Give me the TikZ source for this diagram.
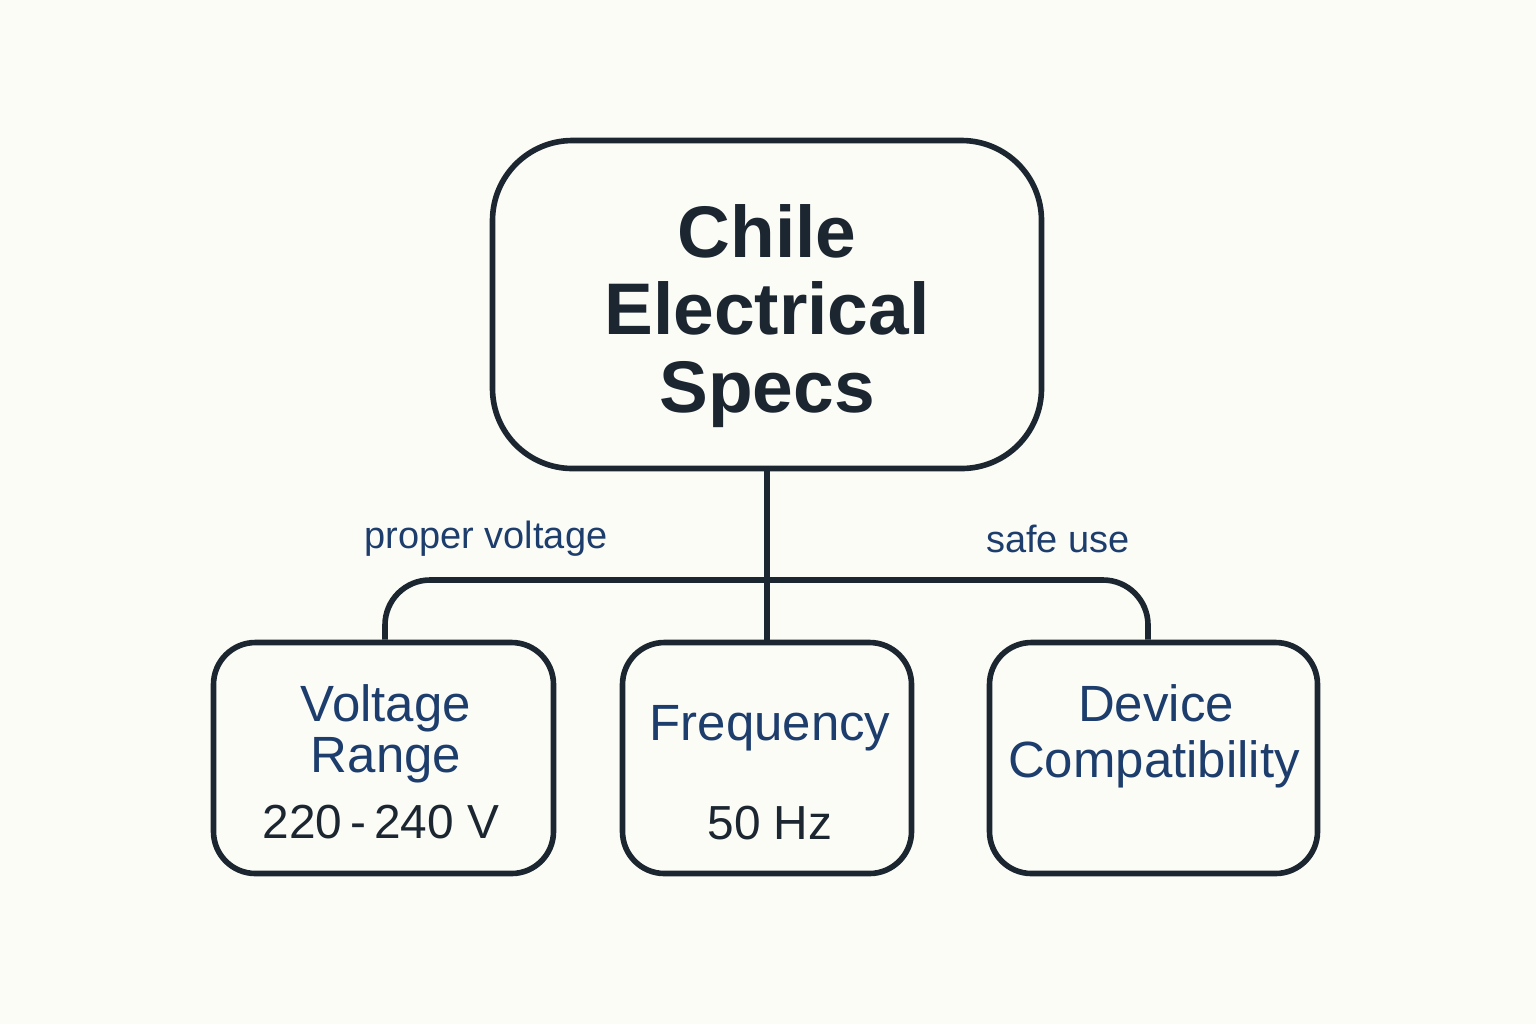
\documentclass[tikz,border=0pt]{standalone}
\usepackage{fontspec}
\setmainfont{Liberation Sans}
\usetikzlibrary{positioning}
\definecolor{ink}{HTML}{1B2631}
\definecolor{navy}{HTML}{1D3D6C}
\definecolor{paper}{HTML}{FCFCF7}
\tikzset{
	box/.style={draw=ink, line width=1.6pt, fill=paper, rounded corners=0.42cm},
	link/.style={draw=ink, line width=1.6pt},
	head/.style={font={\fontsize{20.8pt}{22pt}\selectfont\bfseries}, text=ink, align=center},
	boxname/.style={font={\fontsize{14.5pt}{16pt}\selectfont}, text=navy, anchor=base},
	boxval/.style={font={\fontsize{13.6pt}{16pt}\selectfont}, text=ink, anchor=base},
	tag/.style={font={\fontsize{10.8pt}{12}\selectfont}, text=navy}
	}

\begin{document}
\begin{tikzpicture}
	\fill[paper] (0,0) rectangle (15.36,-10.24);
	\useasboundingbox (0,0) rectangle (15.36,-10.24);
	% main box
	\node (top) [box, rounded corners=0.8cm, minimum width=5.49cm, minimum height=3.28cm] at (7.67,-3.045) {};
	\node (title) [head] at (7.67,-3.16) {Chile\\Electrical\\Specs};
	% three boxes
	\node (vbox) [box, minimum width=3.40cm, minimum height=2.31cm] at (3.835,-7.58) {};
	\node (fbox) [box, minimum width=2.89cm, minimum height=2.31cm] at (7.67,-7.58) {};
	\node (dbox) [box, minimum width=3.28cm, minimum height=2.31cm] at (11.535,-7.58) {};
	% connectors
	\coordinate (bar) at (7.67,-5.80);
	\draw[link] (top.south) -- (fbox.north);
	\draw[link, rounded corners=0.45cm] (vbox.north -| 3.85,0) |- (bar) -| (dbox.north -| 11.48,0);
	\node (l1) [tag] at (4.86,-5.39) {proper voltage};
	\node (l2) [tag] at (10.58,-5.39) {safe use};
	% texts
	\node (v1) [boxname] at (3.86,-7.21) {Voltage};
	\node (v2) [boxname] at (3.86,-7.72) {Range};
	\node (v3) [boxval] at (3.81,-8.38) {220\,-\,240 V};
	\node (f1) [boxname] at (7.70,-7.40) {Frequency};
	\node (f2) [boxval] at (7.70,-8.39) {50 Hz};
	\node (d1) [boxname] at (11.56,-7.21) {Device};
	\node (d2) [boxname] at (11.54,-7.77) {Compatibility};
\end{tikzpicture}
\end{document}
